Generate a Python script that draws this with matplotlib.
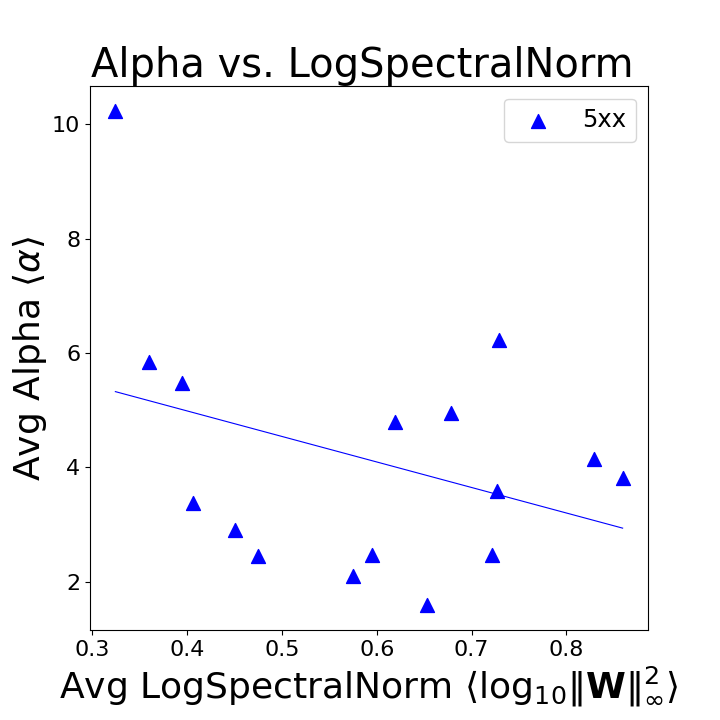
import numpy as np
import matplotlib
matplotlib.use("Agg")
import matplotlib.pyplot as plt

x_vals = [0.3242, 0.360, 0.3947, 0.406, 0.4505, 0.4747, 0.5747, 0.5947,
          0.619, 0.678, 0.653, 0.7214, 0.7266, 0.7287, 0.8287, 0.8593]
y_vals = [10.23, 5.835, 5.47, 3.38, 2.91, 2.44, 2.09, 2.46,
          4.80, 4.95, 1.585, 2.46, 3.59, 6.23, 4.14, 3.82]
label = "5xx"

x = np.array(x_vals)
y = np.array(y_vals)

fig = plt.figure(figsize=(7.2, 7.2), dpi=100)
ax = fig.add_axes([0.125, 0.125, 0.775, 0.755])
ax.scatter(x, y, marker='^', s=100, color='blue', label=label)
m, b = np.polyfit(x, y, 1)
xs = np.array([x.min(), x.max()])
ax.plot(xs, m * xs + b, color='blue', linewidth=0.8)
ax.set_title("Alpha vs. LogSpectralNorm", fontsize=28.8, x=0.4875)
ax.set_xlabel(r"Avg LogSpectralNorm $\langle\mathrm{log}_{10}\|\mathbf{W}\|_{\infty}^{2}\rangle$", fontsize=26)
ax.set_ylabel(r"Avg Alpha $\langle\alpha\rangle$", fontsize=26, labelpad=2)
ax.tick_params(labelsize=16)
ax.legend(fontsize=17.5, loc='upper right')
fig.savefig("out.png", dpi=100)
